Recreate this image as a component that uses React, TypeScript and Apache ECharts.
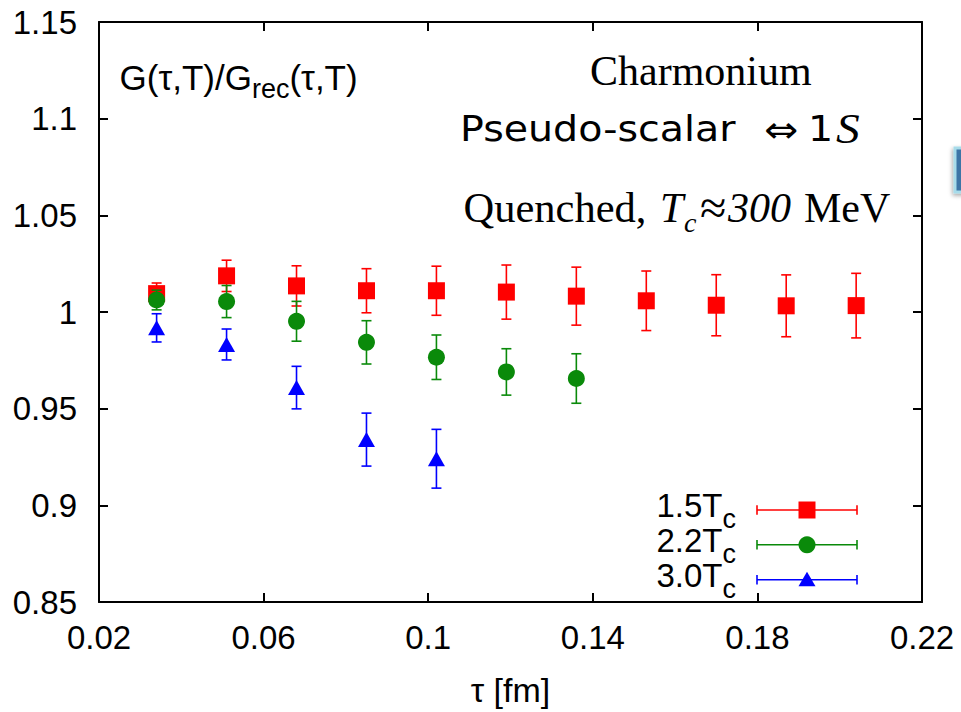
import React, { useEffect, useRef } from 'react';
import * as echarts from 'echarts';

// tau values (fm), lattice spacing ~0.017 fm
const tau = [0.034, 0.051, 0.068, 0.085, 0.102, 0.119, 0.136, 0.153, 0.170, 0.187, 0.204];

// 1.5 Tc
const ratio15 = [1.0095, 1.0187, 1.0135, 1.011, 1.011, 1.0103, 1.0082, 1.0058, 1.0035, 1.0032, 1.0033];
const err15 = [0.0055, 0.0081, 0.0104, 0.0114, 0.0127, 0.014, 0.015, 0.0154, 0.0158, 0.016, 0.0167];
// 2.2 Tc
const ratio22 = [1.0062, 1.0054, 0.9952, 0.9843, 0.9766, 0.969, 0.9656];
const err22 = [0.0051, 0.0083, 0.0103, 0.0112, 0.0115, 0.012, 0.0128];
// 3.0 Tc
const ratio30 = [0.9918, 0.9832, 0.9609, 0.934, 0.9241];
const err30 = [0.0073, 0.008, 0.011, 0.0137, 0.0152];

const seriesNames = ['1.5Tc', '2.2Tc', '3.0Tc'];
const legendMain = ['1.5T', '2.2T', '3.0T'];
const legendSub = 'c';
const colors = ['#ff0000', '#0a8a0a', '#0000ff'];

const xMin = 0.02, xMax = 0.22, xStep = 0.04;
const yMin = 0.85, yMax = 1.15, yStep = 0.05;

const fmt = (v: number) => String(parseFloat(v.toFixed(2)));

function makeErr(color: string) {
  return (params: any, api: any) => {
    const x = api.value(0);
    const lo = api.value(1);
    const hi = api.value(2);
    const pt = api.coord([x, hi]);
    const pb = api.coord([x, lo]);
    const w = 5;
    const st = { stroke: color, lineWidth: 1.6 };
    return {
      type: 'group',
      children: [
        { type: 'line', shape: { x1: pt[0], y1: pt[1], x2: pb[0], y2: pb[1] }, style: st },
        { type: 'line', shape: { x1: pt[0] - w, y1: pt[1], x2: pt[0] + w, y2: pt[1] }, style: st },
        { type: 'line', shape: { x1: pb[0] - w, y1: pb[1], x2: pb[0] + w, y2: pb[1] }, style: st },
      ],
    };
  };
}

export default function App() {
  const ref = useRef<HTMLDivElement>(null);
  useEffect(() => {
    if (!ref.current) return;
    const chart = echarts.init(ref.current, undefined, { renderer: 'svg' });

    const sets = [
      { name: seriesNames[0], y: ratio15, e: err15, color: colors[0], symbol: 'rect', size: [17, 17] },
      { name: seriesNames[1], y: ratio22, e: err22, color: colors[1], symbol: 'circle', size: 17 },
      { name: seriesNames[2], y: ratio30, e: err30, color: colors[2], symbol: 'triangle', size: [17, 15] },
    ];

    const series: any[] = [];
    sets.forEach((s, i) => {
      series.push({
        type: 'custom',
        name: s.name,
        z: 2 + 2 * i,
        silent: true,
        data: s.y.map((v, j) => [tau[j], v - s.e[j], v + s.e[j]]),
        encode: { x: 0, y: [1, 2] },
        renderItem: makeErr(s.color),
      });
      series.push({
        type: 'scatter',
        name: s.name,
        z: 3 + 2 * i,
        data: s.y.map((v, j) => [tau[j], v]),
        symbol: s.symbol,
        symbolSize: s.size,
        itemStyle: { color: s.color, opacity: 1 },
      });
    });

    const axisLine = { show: true, onZero: false, lineStyle: { color: '#000', width: 2 } };
    const axisTick = { show: true, inside: true, length: 9, lineStyle: { color: '#000', width: 2 } };
    const labelFont = { fontSize: 33, color: '#000', fontFamily: 'Liberation Sans' };

    const rowY = [510, 544.8, 579.7];
    const legendGraphics: any[] = [];
    sets.forEach((s, i) => {
      const y = rowY[i];
      legendGraphics.push({
        type: 'text',
        x: 736,
        y: y - 4.7,
        style: {
          text: `{m|${legendMain[i]}}{s|${legendSub}}`,
          align: 'right',
          verticalAlign: 'middle',
          fill: '#000',
          rich: {
            m: { fontSize: 33, fontFamily: 'Liberation Sans', fill: '#000' },
            s: { fontSize: 27, fontFamily: 'Liberation Sans', fill: '#000', padding: [27, 0, 0, 0] },
          },
        },
      });
      const st = { stroke: s.color, lineWidth: 1.6 };
      legendGraphics.push({ type: 'line', shape: { x1: 757, y1: y, x2: 857, y2: y }, style: st });
      legendGraphics.push({ type: 'line', shape: { x1: 757, y1: y - 4.7, x2: 757, y2: y + 4.7 }, style: st });
      legendGraphics.push({ type: 'line', shape: { x1: 857, y1: y - 4.7, x2: 857, y2: y + 4.7 }, style: st });
      if (i === 0) {
        legendGraphics.push({ type: 'rect', shape: { x: 798.5, y: y - 8.5, width: 17, height: 17 }, style: { fill: s.color } });
      } else if (i === 1) {
        legendGraphics.push({ type: 'circle', shape: { cx: 807, cy: y, r: 8.5 }, style: { fill: s.color } });
      } else {
        legendGraphics.push({
          type: 'polygon',
          shape: { points: [[807, y - 8], [815.5, y + 6.5], [798.5, y + 6.5]] },
          style: { fill: s.color },
        });
      }
    });

    const option: any = {
      animation: false,
      backgroundColor: '#fff',
      grid: { left: 99, top: 22, right: 39, bottom: 105, containLabel: false },
      xAxis: [
        {
          type: 'value', min: xMin, max: xMax, interval: xStep, position: 'bottom',
          axisLine, axisTick,
          axisLabel: { ...labelFont, margin: 19, formatter: fmt },
          splitLine: { show: false },
          name: 'τ [fm]', nameLocation: 'middle', nameGap: 71,
          nameTextStyle: { fontSize: 34, color: '#000', fontFamily: 'Liberation Sans' },
        },
        {
          type: 'value', min: xMin, max: xMax, interval: xStep, position: 'top',
          axisLine, axisTick, axisLabel: { show: false }, splitLine: { show: false },
        },
      ],
      yAxis: [
        {
          type: 'value', min: yMin, max: yMax, interval: yStep, position: 'left',
          axisLine, axisTick,
          axisLabel: { ...labelFont, margin: 22, formatter: fmt },
          splitLine: { show: false },
        },
        {
          type: 'value', min: yMin, max: yMax, interval: yStep, position: 'right',
          axisLine, axisTick, axisLabel: { show: false }, splitLine: { show: false },
        },
      ],
      series,
      graphic: [
        {
          type: 'text', x: 119.5, y: 77.9,
          style: {
            text: '{m|G(τ,T)/G}{s|rec}{m|(τ,T)}',
            align: 'left', verticalAlign: 'middle', fill: '#000',
            rich: {
              m: { fontSize: 35, fontFamily: 'Liberation Sans', fill: '#000' },
              s: { fontSize: 27, fontFamily: 'Liberation Sans', fill: '#000', padding: [21.5, 0, 0, 0] },
            },
          },
        },
        {
          type: 'text', x: 590, y: 70.8,
          style: { text: 'Charmonium', fontSize: 42, fontFamily: 'Liberation Serif', fill: '#000', align: 'left', verticalAlign: 'middle' },
        },
        {
          type: 'text', x: 460, y: 128.9, scaleX: 1.13, scaleY: 1,
          style: {
            text: '{a|Pseudo-scalar}{g|⇔}{b|1}{s|S}',
            align: 'left', verticalAlign: 'middle', fill: '#000',
            rich: {
              a: { fontSize: 35, fontFamily: 'DejaVu Sans', fill: '#000', width: 269 },
              g: { fontSize: 36, fontFamily: 'DejaVu Sans', fill: '#000', width: 39 },
              b: { fontSize: 35, fontFamily: 'DejaVu Sans', fill: '#000', width: 24.8 },
              s: { fontSize: 42, fontFamily: 'Liberation Serif', fontStyle: 'italic', fill: '#000' },
            },
          },
        },
        {
          type: 'text', x: 463.5, y: 207.5,
          style: {
            text: '{q|Quenched,}{t|T}{c|c}{a|≈}{n|300}{m|MeV}',
            align: 'left', verticalAlign: 'middle', fill: '#000',
            rich: {
              q: { fontSize: 42.5, fontFamily: 'Liberation Serif', fill: '#000', width: 196.5 },
              t: { fontSize: 42, fontFamily: 'Liberation Serif', fontStyle: 'italic', fill: '#000', width: 24 },
              c: { fontSize: 28, fontFamily: 'Liberation Serif', fontStyle: 'italic', fill: '#000', width: 16, padding: [29.5, 0, 0, 0] },
              a: { fontSize: 48, fontFamily: 'Liberation Serif', fill: '#000', width: 28 },
              n: { fontSize: 42, fontFamily: 'Liberation Serif', fontStyle: 'italic', fill: '#000', width: 76 },
              m: { fontSize: 42, fontFamily: 'Liberation Serif', fill: '#000' },
            },
          },
        },
        ...legendGraphics,
        {
          type: 'rect', shape: { x: 955, y: 148, width: 20, height: 44 },
          style: { fill: '#3c74a6', stroke: '#a8dcea', lineWidth: 3, shadowBlur: 4, shadowColor: 'rgba(0,0,0,0.35)', shadowOffsetX: -1, shadowOffsetY: 2 },
        },
      ],
    };
    chart.setOption(option);
    return () => chart.dispose();
  }, []);
  return <div ref={ref} style={{ position: 'absolute', left: 0, top: 0, width: 961, height: 712, overflow: 'hidden' }} />;
}
